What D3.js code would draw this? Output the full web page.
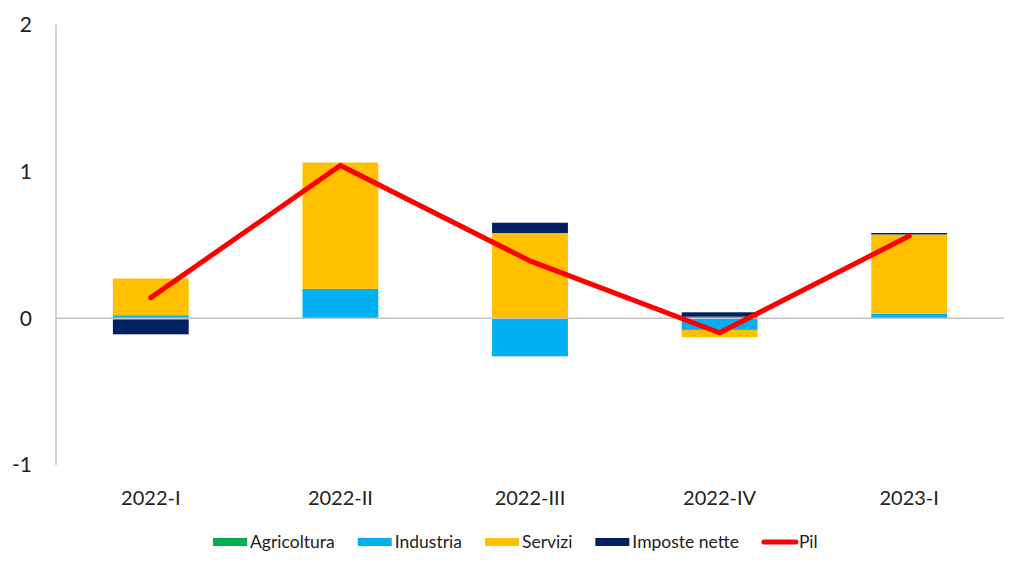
<!DOCTYPE html>
<html>
<head>
<meta charset="utf-8">
<script src="https://cdn.jsdelivr.net/npm/d3@7"></script>
<style>
  body { margin: 0; background: #fff; }
  text { font-family: Lato, "Open Sans", sans-serif; fill: #222; }
</style>
</head>
<body>
<svg id="chart"></svg>
<script>
const categories = ['2022-I', '2022-II', '2022-III', '2022-IV', '2023-I'];
const agricoltura = [-0.01, 0, 0, 0.01, 0];
const industria = [0.02, 0.2, -0.26, -0.08, 0.03];
const servizi = [0.25, 0.86, 0.58, -0.05, 0.54];
const imposte = [-0.1, 0, 0.07, 0.03, 0.01];
const pil = [0.14, 1.04, 0.39, -0.1, 0.56];
const yTicks = [-1, 0, 1, 2];

const keys = ['Agricoltura', 'Industria', 'Servizi', 'Imposte nette'];
const colors = ['#00b050', '#00b0f0', '#ffc000', '#002060'];

const width = 1024;
const height = 569;

const rows = categories.map((c, i) => ({
    cat: c,
    'Agricoltura': agricoltura[i],
    'Industria': industria[i],
    'Servizi': servizi[i],
    'Imposte nette': imposte[i]
}));

const svg = d3.select('#chart')
    .attr('width', width)
    .attr('height', height);

const x = d3.scaleBand()
    .domain(categories)
    .range([56, 1004])
    .paddingInner(0.6)
    .paddingOuter(0.3);

const y = d3.scaleLinear()
    .domain([-1, 2])
    .range([465, 24.5]);

const color = d3.scaleOrdinal().domain(keys).range(colors);

// axis lines
svg.append('line')
    .attr('x1', 56).attr('x2', 56)
    .attr('y1', y(2)).attr('y2', y(-1))
    .attr('stroke', '#c4c4c4')
    .attr('stroke-width', 1.5);

// tick labels
svg.selectAll('.ytick')
    .data(yTicks)
    .enter()
    .append('text')
    .attr('class', 'ytick')
    .attr('x', 32)
    .attr('y', d => y(d))
    .attr('dy', '0.35em')
    .attr('text-anchor', 'end')
    .style('font-size', '21px')
    .text(d => d);

// stacked bars
const series = d3.stack()
    .keys(keys)
    .offset(d3.stackOffsetDiverging)(rows);

svg.append('g')
    .selectAll('g')
    .data(series)
    .enter()
    .append('g')
    .attr('fill', d => color(d.key))
    .selectAll('rect')
    .data(d => d)
    .enter()
    .append('rect')
    .attr('x', d => x(d.data.cat))
    .attr('width', x.bandwidth())
    .attr('y', d => y(Math.max(d[0], d[1])))
    .attr('height', d => Math.abs(y(d[0]) - y(d[1])));

// zero line
svg.append('line')
    .attr('x1', 56).attr('x2', 1004)
    .attr('y1', y(0)).attr('y2', y(0))
    .attr('stroke', '#c4c4c4')
    .attr('stroke-width', 1.5);

// Pil line
const line = d3.line()
    .x((d, i) => x(categories[i]) + x.bandwidth() / 2)
    .y(d => y(d));

svg.append('path')
    .datum(pil)
    .attr('d', line)
    .attr('fill', 'none')
    .attr('stroke', '#ff0000')
    .attr('stroke-width', 5)
    .attr('stroke-linecap', 'round')
    .attr('stroke-linejoin', 'miter');

// category labels
svg.selectAll('.xlab')
    .data(categories)
    .enter()
    .append('text')
    .attr('class', 'xlab')
    .attr('x', d => x(d) + x.bandwidth() / 2)
    .attr('y', 498)
    .attr('dy', '0.35em')
    .attr('text-anchor', 'middle')
    .style('font-size', '20px')
    .text(d => d);

// legend
const legendItems = keys.map(k => ({ name: k, color: color(k), type: 'rect' }))
    .concat([{ name: 'Pil', color: '#ff0000', type: 'line' }]);

const legend = svg.append('g');
let lx = 213;
const ly = 542;
legendItems.forEach(item => {
    if (item.type === 'rect') {
        legend.append('rect')
            .attr('x', lx).attr('y', ly - 4)
            .attr('width', 34).attr('height', 8)
            .attr('fill', item.color);
    } else {
        legend.append('line')
            .attr('x1', lx + 2).attr('x2', lx + 34)
            .attr('y1', ly).attr('y2', ly)
            .attr('stroke', item.color)
            .attr('stroke-width', 5)
            .attr('stroke-linecap', 'round');
    }
    const t = legend.append('text')
        .attr('x', lx + 37)
        .attr('y', ly)
        .attr('dy', '0.35em')
        .style('font-size', '17.5px')
        .text(item.name);
    lx += 37 + t.node().getComputedTextLength() + 23;
});
</script>
</body>
</html>
